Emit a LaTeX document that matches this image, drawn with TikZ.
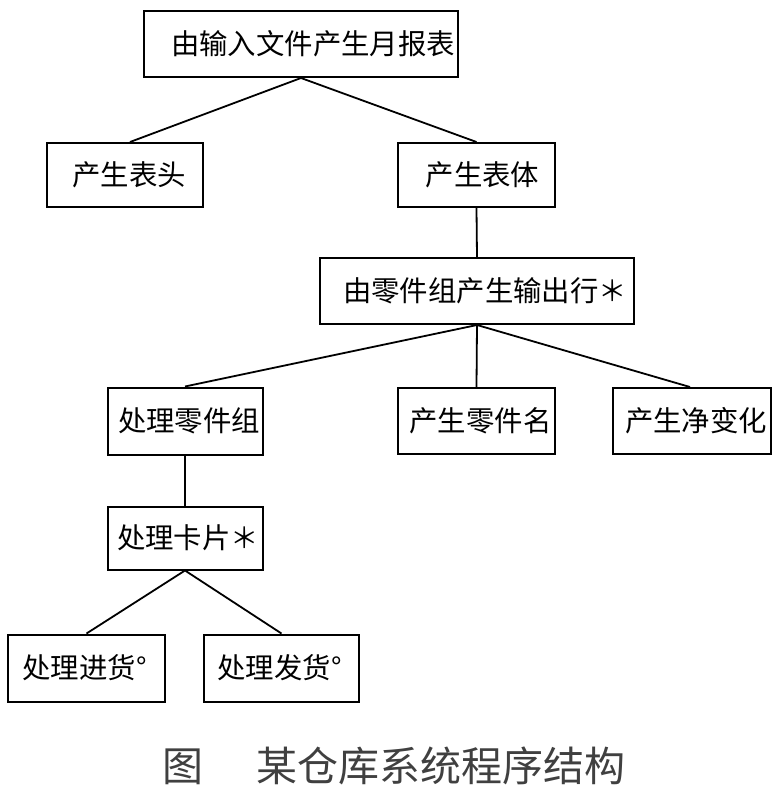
\documentclass[tikz,border=0pt]{standalone}
\usepackage{fontspec}
\newfontfamily\cjk{Noto Sans CJK SC}
\definecolor{capgray}{RGB}{64,64,64}
\tikzset{
  box/.style={draw, line width=2pt, inner sep=0pt, rectangle},
  txt/.style={font=\cjk\fontsize{28.4}{30}\selectfont},
  link/.style={line width=1.8pt},
}
\begin{document}
\begin{tikzpicture}[x=1pt,y=-1pt]
\useasboundingbox (0,0) rectangle (778,812);
\node[box, minimum width=314pt, minimum height=66pt, label={[txt,xshift=12pt]center:由输入文件产生月报表}] (top) at (301,44) {};
\node[box, minimum width=156pt, minimum height=64pt, label={[txt,xshift=4pt]center:产生表头}] (hd) at (125,175) {};
\node[box, minimum width=157pt, minimum height=64pt, label={[txt,xshift=6pt]center:产生表体}] (bd) at (476.5,175) {};
\node[box, minimum width=314pt, minimum height=66pt, label={[txt,xshift=8pt]center:由零件组产生输出行＊}] (row) at (477,291) {};
\node[box, minimum width=155pt, minimum height=67pt, label={[txt,xshift=4pt]center:处理零件组}] (grp) at (185,421) {};
\node[box, minimum width=157pt, minimum height=66pt, label={[txt,xshift=4pt]center:产生零件名}] (nm) at (476.5,421) {};
\node[box, minimum width=158pt, minimum height=66pt, label={[txt,xshift=4pt]center:产生净变化}] (chg) at (692,421) {};
\node[box, minimum width=155pt, minimum height=63pt, label={[txt,xshift=3pt]center:处理卡片＊}] (card) at (185,538) {};
\node[box, minimum width=157pt, minimum height=67pt, label={[txt,xshift=-2pt]center:处理进货°}] (in) at (86.5,668) {};
\node[box, minimum width=155pt, minimum height=67pt, label={[txt,xshift=-2pt]center:处理发货°}] (out) at (281.5,668) {};
\draw[link] (top.south) -- ([xshift=5pt]hd.north);
\draw[link] (top.south) -- (bd.north);
\draw[link] (bd.south) -- (row.north);
\draw[link] (row.south) -- (grp.north);
\draw[link] (row.south) -- (nm.north);
\draw[link] (row.south) -- ([xshift=-2pt]chg.north);
\draw[link] (grp.south) -- (card.north);
\draw[link] (card.south) -- (in.north);
\draw[link] (card.south) -- (out.north);
\node[font=\cjk\fontsize{41}{43}\selectfont, text=capgray] (cap) at (394,766) {图\hspace{54pt}某仓库系统程序结构};
\end{tikzpicture}
\end{document}
